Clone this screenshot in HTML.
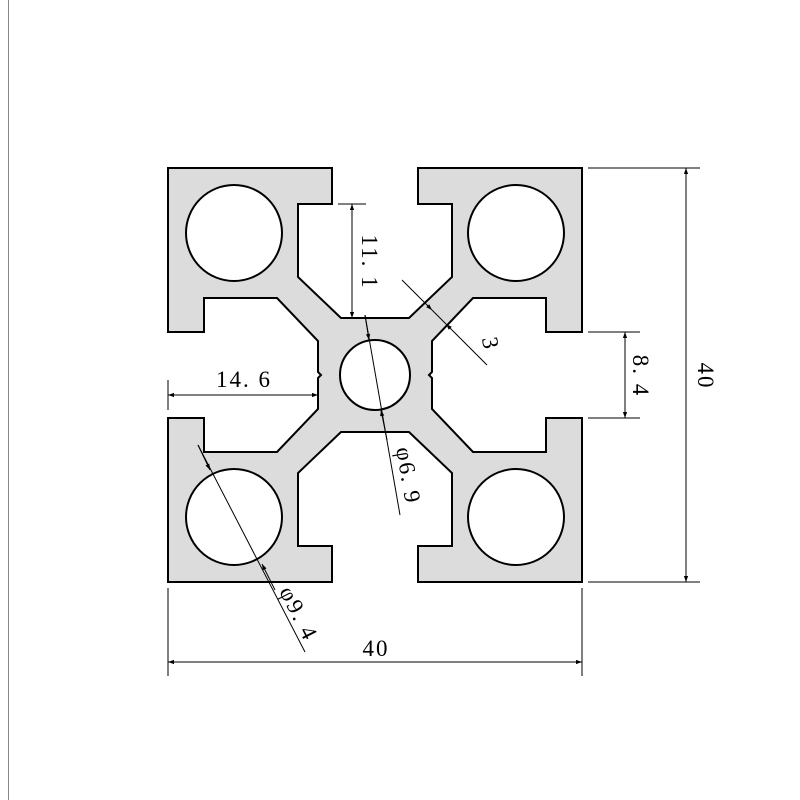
<!DOCTYPE html>
<html><head><meta charset="utf-8"><style>body{margin:0;background:#fff}svg{display:block}</style></head>
<body>
<svg width="800" height="800" viewBox="0 0 800 800" xmlns="http://www.w3.org/2000/svg" font-family="'Liberation Serif', serif" font-size="23" letter-spacing="2">
<defs>
<marker id="a" viewBox="0 0 10 10" refX="10" refY="5" markerWidth="14" markerHeight="6" markerUnits="userSpaceOnUse" orient="auto-start-reverse"><path d="M0,1.5 L10,5 L0,8.5 Z" fill="#000"/></marker>
</defs>
<line x1="8.5" y1="0" x2="8.5" y2="800" stroke="#888" stroke-width="1"/>
<path d="M168,168 L332,168 L332,204 L298,204 L298,277 L341,318 L409,318 L452,277 L452,204 L418,204 L418,168 L582,168 L582,332 L546,332 L546,298 L473,298 L432,341 L432,372 L429,375 L432,378 L432,409 L473,452 L546,452 L546,418 L582,418 L582,582 L418,582 L418,546 L452,546 L452,473 L409,432 L341,432 L298,473 L298,546 L332,546 L332,582 L168,582 L168,418 L204,418 L204,452 L277,452 L318,409 L318,378 L321,375 L318,372 L318,341 L277,298 L204,298 L204,332 L168,332 Z" fill="#dcdcdc" stroke="#000" stroke-width="2"/>
<g fill="#fff" stroke="#000" stroke-width="2">
<circle cx="375" cy="375" r="35"/>
<circle cx="234" cy="233" r="48"/>
<circle cx="516" cy="233" r="48"/>
<circle cx="234" cy="517" r="48"/>
<circle cx="516" cy="517" r="48"/>
</g>
<g stroke="#000" stroke-width="1" fill="none">
<line x1="588" y1="168" x2="700" y2="168"/>
<line x1="588" y1="582" x2="700" y2="582"/>
<line x1="686" y1="168" x2="686" y2="582" marker-start="url(#a)" marker-end="url(#a)"/>
<line x1="588" y1="332" x2="640" y2="332"/>
<line x1="588" y1="418" x2="640" y2="418"/>
<line x1="625" y1="332" x2="625" y2="418" marker-start="url(#a)" marker-end="url(#a)"/>
<line x1="168" y1="588" x2="168" y2="676"/>
<line x1="582" y1="588" x2="582" y2="676"/>
<line x1="168" y1="662" x2="582" y2="662" marker-start="url(#a)" marker-end="url(#a)"/>
<line x1="168" y1="380" x2="168" y2="410"/>
<line x1="168" y1="395" x2="318" y2="395" marker-start="url(#a)" marker-end="url(#a)"/>
<line x1="338" y1="204" x2="366" y2="204"/>
<line x1="352" y1="204" x2="352" y2="318" marker-start="url(#a)" marker-end="url(#a)"/>
<line x1="402" y1="280" x2="432" y2="310" marker-end="url(#a)"/>
<line x1="446" y1="324" x2="487" y2="365" marker-start="url(#a)"/>
<line x1="432" y1="310" x2="446" y2="324"/>
<line x1="365" y1="315" x2="400" y2="515"/>
<line x1="365" y1="315" x2="369" y2="340" marker-end="url(#a)"/>
<line x1="387" y1="440" x2="381" y2="410" marker-end="url(#a)"/>
<line x1="198" y1="445" x2="305" y2="652"/>
<line x1="198" y1="445" x2="210" y2="470" marker-end="url(#a)"/>
<line x1="275" y1="590" x2="262" y2="564" marker-end="url(#a)"/>
</g>
<text x="376" y="656" text-anchor="middle">40</text>
<text x="244" y="387" text-anchor="middle">14. 6</text>
<text transform="translate(698,376) rotate(90)" text-anchor="middle">40</text>
<text transform="translate(633,376) rotate(90)" text-anchor="middle">8. 4</text>
<text transform="translate(362,262) rotate(90)" text-anchor="middle">11. 1</text>
<text transform="translate(483,345) rotate(80)" text-anchor="middle">3</text>
<text transform="translate(401,477) rotate(80)" text-anchor="middle">φ6. 9</text>
<text transform="translate(292,617) rotate(63)" text-anchor="middle">φ9. 4</text>
</svg>
</body></html>
